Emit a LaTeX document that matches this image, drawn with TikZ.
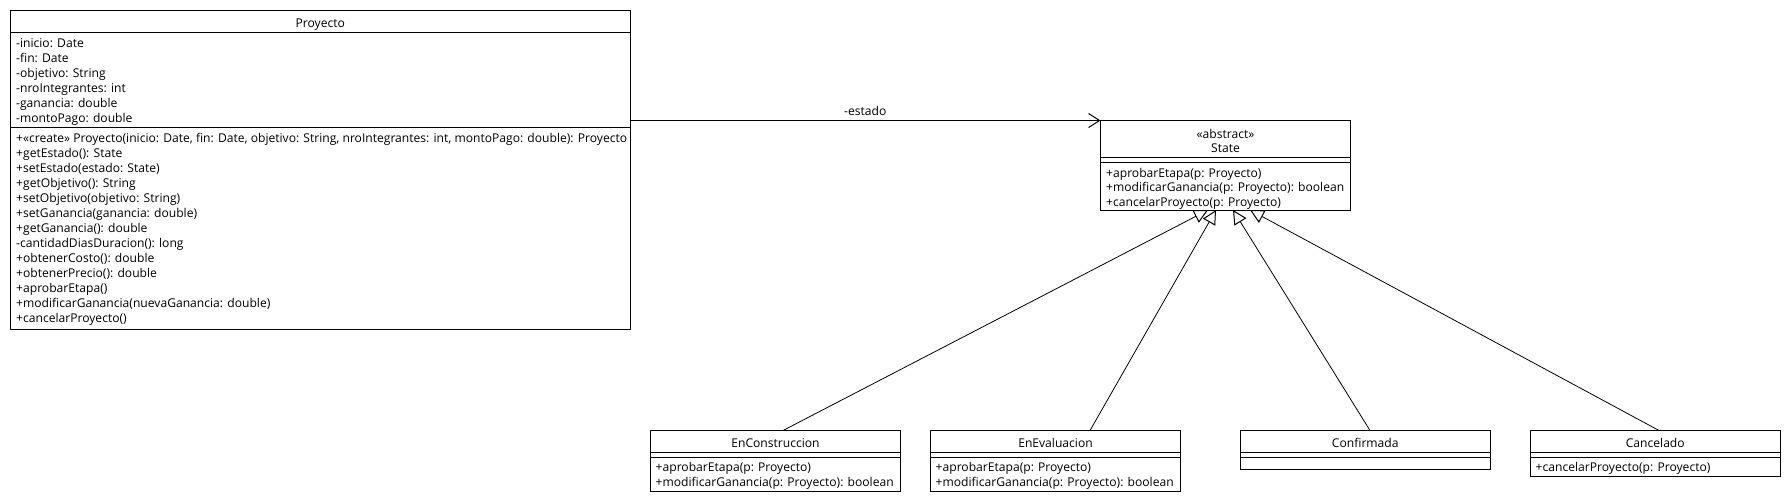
\documentclass[tikz,border=0pt]{standalone}
\usepackage{fontspec}
\setmainfont{Open Sans}
\usetikzlibrary{arrows.meta}
\newlength\LongW
\newcommand\umlfont{\fontsize{\FS pt}{15pt}\selectfont}
\begin{document}
\settowidth\LongW{\fontsize{10pt}{12pt}\selectfont +«create» Proyecto(inicio: Date, fin: Date, objetivo: String, nroIntegrantes: int, montoPago: double): Proyecto}%
\pgfmathsetmacro\FS{10*611/\LongW}%
\begin{tikzpicture}[x=1pt,y=-1pt,
  box/.style={draw, line width=1pt, inner sep=0pt, outer sep=0pt, anchor=north west},
  txt/.style={inner sep=0pt, anchor=base west, font=\umlfont},
  ttl/.style={inner sep=0pt, anchor=base, font=\umlfont},
  sep/.style={line width=1pt},
  gen/.style={line width=0.8pt, -{Triangle[open, length=14pt, width=14pt, line width=1pt]}},
  assoc/.style={line width=0.8pt, -{Straight Barb[length=11pt, width=14pt, line width=1pt]}}]
\useasboundingbox[fill=white] (0,0) rectangle (1790,500);

% ---------- Proyecto ----------
\node[box, minimum width=619.5pt, minimum height=318.5pt] (proy) at (10.5,11) {};
\draw[sep] (10.5,32.3) -- (630,32.3);
\draw[sep] (10.5,127.7) -- (630,127.7);
\node[ttl] (proyT) at (320.25,27.3) {Proyecto};
\foreach \t [count=\i from 0] in {{-inicio: Date},{-fin: Date},{-objetivo: String},{-nroIntegrantes: int},{-ganancia: double},{-montoPago: double}}
  \node[txt] (pa\i) at (16,47.3+15*\i) {\t};
\foreach \t [count=\i from 0] in {{+«create» Proyecto(inicio: Date, fin: Date, objetivo: String, nroIntegrantes: int, montoPago: double): Proyecto},{+getEstado(): State},{+setEstado(estado: State)},{+getObjetivo(): String},{+setObjetivo(objetivo: String)},{+setGanancia(ganancia: double)},{+getGanancia(): double},{-cantidadDiasDuracion(): long},{+obtenerCosto(): double},{+obtenerPrecio(): double},{+aprobarEtapa()},{+modificarGanancia(nuevaGanancia: double)},{+cancelarProyecto()}}
  \node[txt] (pm\i) at (16,142.8+15*\i) {\t};

% ---------- State ----------
\node[box, minimum width=250pt, minimum height=89.5pt] (st) at (1100.5,120.5) {};
\draw[sep] (1100.5,157.3) -- (1350.5,157.3);
\draw[sep] (1100.5,162.3) -- (1350.5,162.3);
\node[ttl] (stS) at (1225.5,138.5) {«abstract»};
\node[ttl] (stT) at (1225.5,152.5) {State};
\node[txt] (sm0) at (1106,177) {+aprobarEtapa(p: Proyecto)};
\node[txt] (sm1) at (1106,191.6) {+modificarGanancia(p: Proyecto): boolean};
\node[txt] (sm2) at (1106,206) {+cancelarProyecto(p: Proyecto)};

% ---------- EnConstruccion ----------
\node[box, minimum width=250pt, minimum height=61pt] (ec) at (650.5,430.5) {};
\draw[sep] (650.5,452.3) -- (900.5,452.3);
\draw[sep] (650.5,457.3) -- (900.5,457.3);
\node[ttl] (ecT) at (775.5,447) {EnConstruccion};
\node[txt] (ec0) at (655.5,471.7) {+aprobarEtapa(p: Proyecto)};
\node[txt] (ec1) at (655.5,486.5) {+modificarGanancia(p: Proyecto): boolean};

% ---------- EnEvaluacion ----------
\node[box, minimum width=250pt, minimum height=61pt] (ev) at (930.5,430.5) {};
\draw[sep] (930.5,452.3) -- (1180.5,452.3);
\draw[sep] (930.5,457.3) -- (1180.5,457.3);
\node[ttl] (evT) at (1055.5,447) {EnEvaluacion};
\node[txt] (ev0) at (935.5,471.7) {+aprobarEtapa(p: Proyecto)};
\node[txt] (ev1) at (935.5,486.5) {+modificarGanancia(p: Proyecto): boolean};

% ---------- Confirmada ----------
\node[box, minimum width=249.5pt, minimum height=39pt] (cf) at (1240.5,430.5) {};
\draw[sep] (1240.5,452.3) -- (1490,452.3);
\draw[sep] (1240.5,457.3) -- (1490,457.3);
\node[ttl] (cfT) at (1365.25,447) {Confirmada};

% ---------- Cancelado ----------
\node[box, minimum width=249.5pt, minimum height=46pt] (cn) at (1530.5,430.5) {};
\draw[sep] (1530.5,452.3) -- (1780,452.3);
\draw[sep] (1530.5,457.3) -- (1780,457.3);
\node[ttl] (cnT) at (1655.25,447) {Cancelado};
\node[txt] (cn0) at (1535.5,471.7) {+cancelarProyecto(p: Proyecto)};

% ---------- connectors ----------
\draw[assoc] (proy.east |- st.north west) -- (st.north west)
  node[midway, anchor=base, yshift=4.5pt, inner sep=0pt, font=\umlfont] (lblE) {-estado};
\draw[gen] ([xshift=7.5pt]ec.north) -- ([xshift=-17.5pt]st.south);
\draw[gen] ([xshift=34.5pt]ev.north) -- ([xshift=-9.5pt]st.south);
\draw[gen] ([xshift=4.75pt]cf.north) -- ([xshift=7.5pt]st.south);
\draw[gen] ([xshift=3.75pt]cn.north) -- ([xshift=24.5pt]st.south);
\end{tikzpicture}
\end{document}
